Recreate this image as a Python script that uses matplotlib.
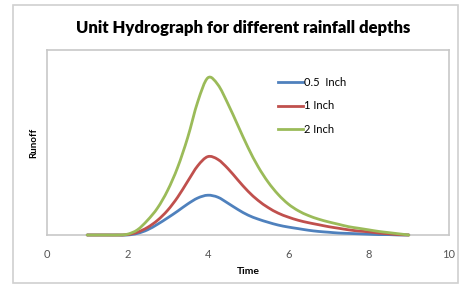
import matplotlib
matplotlib.use("Agg")
import matplotlib.pyplot as plt
import numpy as np
from matplotlib.path import Path
from matplotlib.patches import PathPatch, Rectangle
from matplotlib.lines import Line2D

plt.rcParams['font.family'] = ['Lato', 'DejaVu Sans']

# values (quarter-hour points, runoff in arbitrary units)
time = [1, 1.25, 1.5, 1.75, 2, 2.25, 2.5, 2.75, 3, 3.25, 3.5, 3.75, 4, 4.25, 4.5, 4.75,
        5, 5.25, 5.5, 5.75, 6, 6.25, 6.5, 6.75, 7, 7.25, 7.5, 7.75, 8, 8.25, 8.5, 8.75, 9]
runoff_05 = [0, 0, 0, 0, 0, 0.04, 0.13, 0.27, 0.43, 0.6, 0.78, 0.93, 1.0, 0.95, 0.8, 0.64,
             0.5, 0.4, 0.32, 0.25, 0.2, 0.16, 0.12, 0.09, 0.07, 0.05, 0.04, 0.03, 0.02, 0.01, 0.01, 0, 0]
runoff_1 = [0, 0, 0, 0, 0.01, 0.07, 0.19, 0.37, 0.62, 0.95, 1.35, 1.74, 1.97, 1.9, 1.67, 1.38,
            1.1, 0.87, 0.69, 0.55, 0.45, 0.37, 0.31, 0.26, 0.21, 0.17, 0.13, 0.1, 0.08, 0.05, 0.03, 0.01, 0]
runoff_2 = [0, 0, 0, 0, 0.02, 0.13, 0.37, 0.68, 1.12, 1.7, 2.45, 3.35, 3.95, 3.78, 3.3, 2.75,
            2.2, 1.72, 1.33, 1.02, 0.78, 0.61, 0.49, 0.4, 0.33, 0.27, 0.21, 0.17, 0.13, 0.09, 0.06, 0.03, 0]
labels = ['0.5  Inch', '1 Inch', '2 Inch']
colors = ['#4F81BD', '#C0504D', '#9BBB59']
xticks = [0, 2, 4, 6, 8, 10]


def smooth_path(x, y):
    # excel-like smoothed line: catmull-rom segments as cubic beziers
    p = np.column_stack([x, y]).astype(float)
    pts = np.vstack([p[0], p, p[-1]])
    verts = [p[0]]
    codes = [Path.MOVETO]
    for i in range(1, len(pts) - 2):
        c1 = pts[i] + (pts[i + 1] - pts[i - 1]) / 6
        c2 = pts[i + 1] - (pts[i + 2] - pts[i]) / 6
        verts += [c1, c2, pts[i + 1]]
        codes += [Path.CURVE4] * 3
    return Path(verts, codes)


fig = plt.figure(figsize=(4.65, 2.86), dpi=100)
fig.patches.append(Rectangle((13 / 465, 3 / 286), 445 / 465, 278 / 286,
                             transform=fig.transFigure, fill=False,
                             edgecolor='#d0d0d0', lw=1.2))
ax = fig.add_axes([47 / 465, 51 / 286, 402 / 465, 185 / 286])

handles = []
for ys, lab, c in zip([runoff_05, runoff_1, runoff_2], labels, colors):
    ax.add_patch(PathPatch(smooth_path(time, ys), fill=False, edgecolor=c,
                           lw=2, capstyle='round', joinstyle='round',
                           clip_on=False, zorder=3))
    handles.append(Line2D([], [], color=c, lw=2, label=lab))

ax.set_xlim(0, 10)
ax.set_ylim(0, 4.65)
ax.set_xticks(xticks)
ax.set_yticks([])
ax.tick_params(axis='x', length=0, labelsize=8, labelcolor='#555555', pad=10)
for s in ax.spines.values():
    s.set_color('#c8c8c8')
    s.set_linewidth(1.2)

ax.set_xlabel('Time', fontsize=7.5, fontweight='bold', labelpad=5)
ax.set_ylabel('Runoff', fontsize=7, fontweight='bold', labelpad=6)
fig.text(243 / 465, 0.902, 'Unit Hydrograph for different rainfall depths',
         ha='center', va='center', fontsize=12, fontweight='heavy')

ax.legend(handles=handles, loc='upper left', bbox_to_anchor=(0.55, 0.91),
          frameon=False, fontsize=8, handlelength=2.2, handletextpad=0.1,
          labelspacing=1.15)

fig.savefig('out.png', dpi=100)
